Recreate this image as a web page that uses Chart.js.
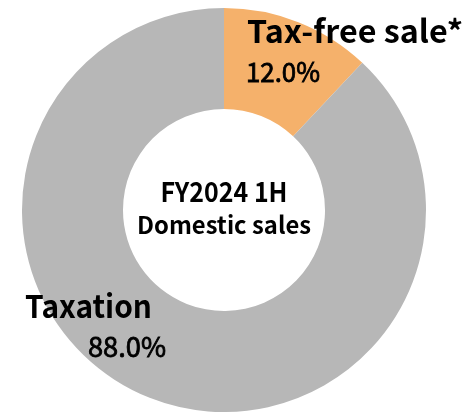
<!DOCTYPE html>
<html>
<head>
<meta charset="utf-8">
<script src="https://cdn.jsdelivr.net/npm/chart.js@4.4.1/dist/chart.umd.min.js"></script>
<style>
  html, body { margin: 0; padding: 0; background: #fff; overflow: hidden; }
  #wrap { position: relative; width: 467px; height: 412px; }
</style>
</head>
<body>
<div id="wrap"><canvas id="salesChart"></canvas></div>
<script>
// Domestic sales split, FY2024 1H
const categories = ['Tax-free sale*', 'Taxation'];
const shares = [12.0, 88.0];
const centerLines = ['FY2024 1H', 'Domestic sales'];

const sliceColors = ['#F5B16B', '#B7B7B7'];
const FONT = "'Noto Sans CJK JP', 'Noto Sans', sans-serif";
const CAP = 0.733; // cap height / em for Noto Sans CJK

// label placement: anchor x, baseline y, cap height, target width
// (stroke = extra outline to get a medium weight the font doesn't ship)
const labelLayout = [
  { name: { x: 247, y: 43, cap: 23, w: 216, weight: 700 }, pct: { x: 246, y: 82, cap: 19.5, w: 74, weight: 400, stroke: 0.8 } },
  { name: { x: 25, y: 318, cap: 23, w: 127, weight: 700 }, pct: { x: 88, y: 357, cap: 20, w: 78, weight: 400, stroke: 0.8 } }
];
const centerLayout = [
  { y: 202, cap: 20, w: 127, weight: 700 },
  { y: 234, cap: 17.5, w: 174, weight: 700 }
];

// draw text at the reference height, squeezed/stretched to the reference width
function drawFitted(ctx, text, x, y, spec) {
  ctx.font = spec.weight + ' ' + (spec.cap / CAP).toFixed(1) + 'px ' + FONT;
  const sx = spec.w / ctx.measureText(text).width;
  ctx.save();
  ctx.translate(x, y);
  ctx.scale(sx, 1);
  ctx.fillText(text, 0, 0);
  if (spec.stroke) {
    ctx.lineWidth = spec.stroke;
    ctx.strokeStyle = ctx.fillStyle;
    ctx.strokeText(text, 0, 0);
  }
  ctx.restore();
}

const labelPlugin = {
  id: 'sliceLabels',
  afterDraw(chart) {
    const ctx = chart.ctx;
    const arc = chart.getDatasetMeta(0).data[0];
    ctx.save();
    ctx.fillStyle = '#000';
    ctx.textBaseline = 'alphabetic';

    ctx.textAlign = 'left';
    categories.forEach((cat, i) => {
      const pos = labelLayout[i];
      const pct = shares[i].toFixed(1) + '%';
      drawFitted(ctx, cat, pos.name.x, pos.name.y, pos.name);
      drawFitted(ctx, pct, pos.pct.x, pos.pct.y, pos.pct);
    });

    ctx.textAlign = 'center';
    centerLines.forEach((line, i) => {
      const pos = centerLayout[i];
      drawFitted(ctx, line, arc.x, pos.y, pos);
    });
    ctx.restore();
  }
};

new Chart(document.getElementById('salesChart'), {
  type: 'doughnut',
  data: {
    labels: categories,
    datasets: [{
      data: shares,
      backgroundColor: sliceColors,
      borderWidth: 0,
      hoverOffset: 0
    }]
  },
  options: {
    responsive: true,
    maintainAspectRatio: false,
    animation: false,
    cutout: '50%',
    rotation: 0,
    layout: { padding: { left: 22, right: 41, top: 8, bottom: 0 } },
    plugins: {
      legend: { display: false },
      tooltip: { enabled: false }
    }
  },
  plugins: [labelPlugin]
});
</script>
</body>
</html>
